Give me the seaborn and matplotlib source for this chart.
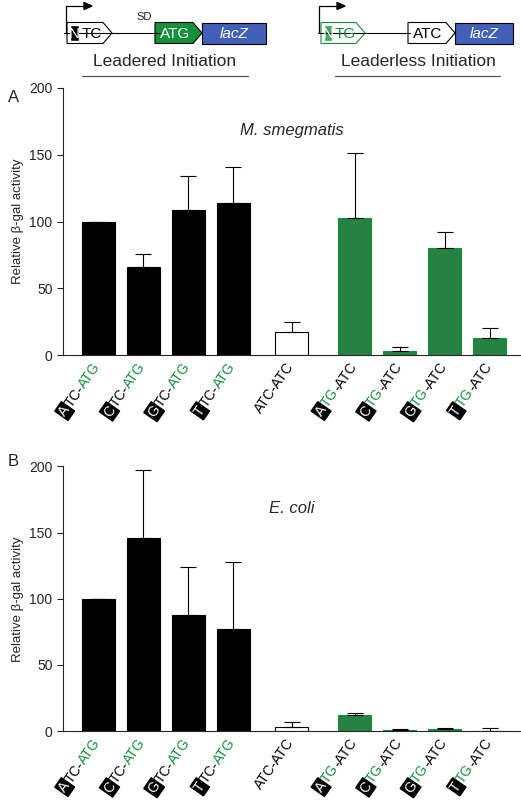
import numpy as np
import pandas as pd
import matplotlib
matplotlib.use("Agg")
import matplotlib.pyplot as plt
import seaborn as sns
from matplotlib.patches import Polygon, Rectangle
from matplotlib.transforms import offset_copy

sns.set_style("ticks")
plt.rcParams['font.family'] = ['Liberation Sans', 'DejaVu Sans']

GREEN = "#15913c"
BLUE = "#4360b8"

constructs = ["ATC-ATG", "CTC-ATG", "GTC-ATG", "TTC-ATG", "ATC-ATC",
              "ATG-ATC", "CTG-ATC", "GTG-ATC", "TTG-ATC"]
positions = [0, 1, 2, 3, 4.3, 5.7, 6.7, 7.7, 8.7]
kinds = ["black"] * 4 + ["white"] + ["green"] * 4
smeg_vals = [100, 66, 109, 114, 17, 103, 3, 80, 13]
smeg_err = [0, 10, 25, 27, 8, 48, 3, 12, 7]
ecoli_vals = [100, 146, 88, 77, 3, 12, 0.6, 1.5, 0.5]
ecoli_err = [0, 51, 36, 51, 4, 2, 1, 1, 2]

fill = {"black": "black", "white": "white", "green": GREEN}
edge = {"black": "black", "white": "black", "green": GREEN}

fig = plt.figure(figsize=(5.21, 8), dpi=100)
ax1 = fig.add_axes([0.121, 0.556, 0.879, 0.334])
ax2 = fig.add_axes([0.121, 0.086, 0.879, 0.331])

def draw_panel(ax, vals, errs, title):
    df = pd.DataFrame({"pos": positions, "val": vals, "kind": kinds})
    sns.barplot(data=df, x="pos", y="val", hue="kind", native_scale=True,
                palette=fill, width=0.73, dodge=False, legend=False, ax=ax,
                linewidth=0.8)
    for p, k in zip(ax.patches, kinds):
        p.set_edgecolor(edge[k])
    ax.errorbar(positions, vals, yerr=[np.zeros(len(vals)), errs], fmt="none",
                ecolor="black", elinewidth=0.8, capsize=6, capthick=0.8)
    ax.set_xlim(-0.78, 9.4)
    ax.set_ylim(0, 200)
    ax.set_yticks([0, 50, 100, 150, 200])
    ax.set_xticks([])
    ax.set_xlabel("")
    ax.set_ylabel("Relative β-gal activity", fontsize=9.5)
    ax.tick_params(axis="y", labelsize=10, direction="out", length=4)
    sns.despine(ax=ax)
    ax.text(4.3, 0.84, title, transform=ax.get_xaxis_transform(),
            ha="center", va="center", fontsize=12, style="italic")

draw_panel(ax1, smeg_vals, smeg_err, "M. smegmatis")
draw_panel(ax2, ecoli_vals, ecoli_err, "E. coli")

fig.canvas.draw()
renderer = fig.canvas.get_renderer()
FS = 10
ang = np.deg2rad(55)

def pieces_for(name, kind):
    if kind == "white":
        return [(name, "black", False)]
    if kind == "black":
        return [(name[0], "white", True), (name[1:4], "black", False), (name[4:], GREEN, False)]
    return [(name[0], "white", True), (name[1:3], GREEN, False), (name[3:], "black", False)]

def width_pts(s):
    t = fig.text(0, 0, s, fontsize=FS)
    w = t.get_window_extent(renderer).width * 72 / fig.dpi
    t.remove()
    return w

def rich_label(ax, x, name, kind):
    pcs = pieces_for(name, kind)
    ws = [width_pts(s) + (1.5 if b else 0) for s, c, b in pcs]
    L = sum(ws)
    ex, ey = 2, -8
    d = -L
    for (s, c, b), w in zip(pcs, ws):
        dx = ex + d * np.cos(ang)
        dy = ey + d * np.sin(ang)
        tr = offset_copy(ax.get_xaxis_transform(), fig=fig, x=dx, y=dy, units="points")
        kw = {}
        if b:
            kw["bbox"] = dict(boxstyle="square,pad=0.08", fc="black", ec="black")
        ax.text(x, 0, s, transform=tr, rotation=55, rotation_mode="anchor",
                ha="left", va="baseline", fontsize=FS, color=c, clip_on=False, **kw)
        d += w

for ax in (ax1, ax2):
    for x, n, k in zip(positions, constructs, kinds):
        rich_label(ax, x, n, k)

fig.text(8 / 521, 1 - 97 / 800, "A", fontsize=12, va="center")
fig.text(8 / 521, 1 - 462 / 800, "B", fontsize=12, va="center")

# schematic
sx = fig.add_axes([0, 1 - 80 / 800, 1, 80 / 800])
sx.set_xlim(0, 521)
sx.set_ylim(80, 0)
sx.axis("off")

def arrow_box(x0, x1, fc, ec, yc=33, h=10.5, tip=9, lw=0.8):
    pts = [(x0, yc - h), (x1 - tip, yc - h), (x1, yc), (x1 - tip, yc + h), (x0, yc + h)]
    sx.add_patch(Polygon(pts, closed=True, fc=fc, ec=ec, lw=lw))

def promoter(x):
    sx.plot([x, x, x + 20], [33, 6, 6], color="black", lw=0.9)
    sx.add_patch(Polygon([(x + 18, 2.5), (x + 26, 6), (x + 18, 9.5)], fc="black", ec="black"))

# left
sx.plot([64, 160], [33, 33], color="black", lw=0.8)
promoter(66)
arrow_box(67, 112, "white", "black")
sx.add_patch(Rectangle((70, 25), 8.5, 16, fc="black"))
sx.text(74.3, 34, "N", color="white", ha="center", va="center", fontsize=11)
sx.text(92, 34, "TC", color="black", ha="center", va="center", fontsize=11)
sx.text(144, 17, "SD", ha="center", va="center", fontsize=8)
arrow_box(155, 202, GREEN, "black")
sx.text(175, 34, "ATG", color="white", ha="center", va="center", fontsize=11)
sx.add_patch(Rectangle((202, 23), 64, 21, fc=BLUE, ec="black", lw=0.8))
sx.text(234, 34, "lacZ", color="white", ha="center", va="center", fontsize=11, style="italic")
sx.text(165, 61, "Leadered Initiation", ha="center", va="center", fontsize=12.5)
sx.plot([82, 248], [76, 76], color="#555555", lw=0.9)

# right
sx.plot([318, 410], [33, 33], color="black", lw=0.8)
promoter(319)
arrow_box(321, 365, "white", GREEN)
sx.add_patch(Rectangle((324, 25), 8, 16, fc=GREEN, alpha=0.8))
sx.text(328, 34, "N", color="white", ha="center", va="center", fontsize=11)
sx.text(345, 34, "TG", color=GREEN, ha="center", va="center", fontsize=11)
arrow_box(408, 455, "white", "black")
sx.text(428, 34, "ATC", color="black", ha="center", va="center", fontsize=11)
sx.add_patch(Rectangle((455, 23), 58, 21, fc=BLUE, ec="black", lw=0.8))
sx.text(484, 34, "lacZ", color="white", ha="center", va="center", fontsize=11, style="italic")
sx.text(418, 61, "Leaderless Initiation", ha="center", va="center", fontsize=12.5)
sx.plot([335, 500], [76, 76], color="#555555", lw=0.9)

fig.savefig("out.png", dpi=100)
